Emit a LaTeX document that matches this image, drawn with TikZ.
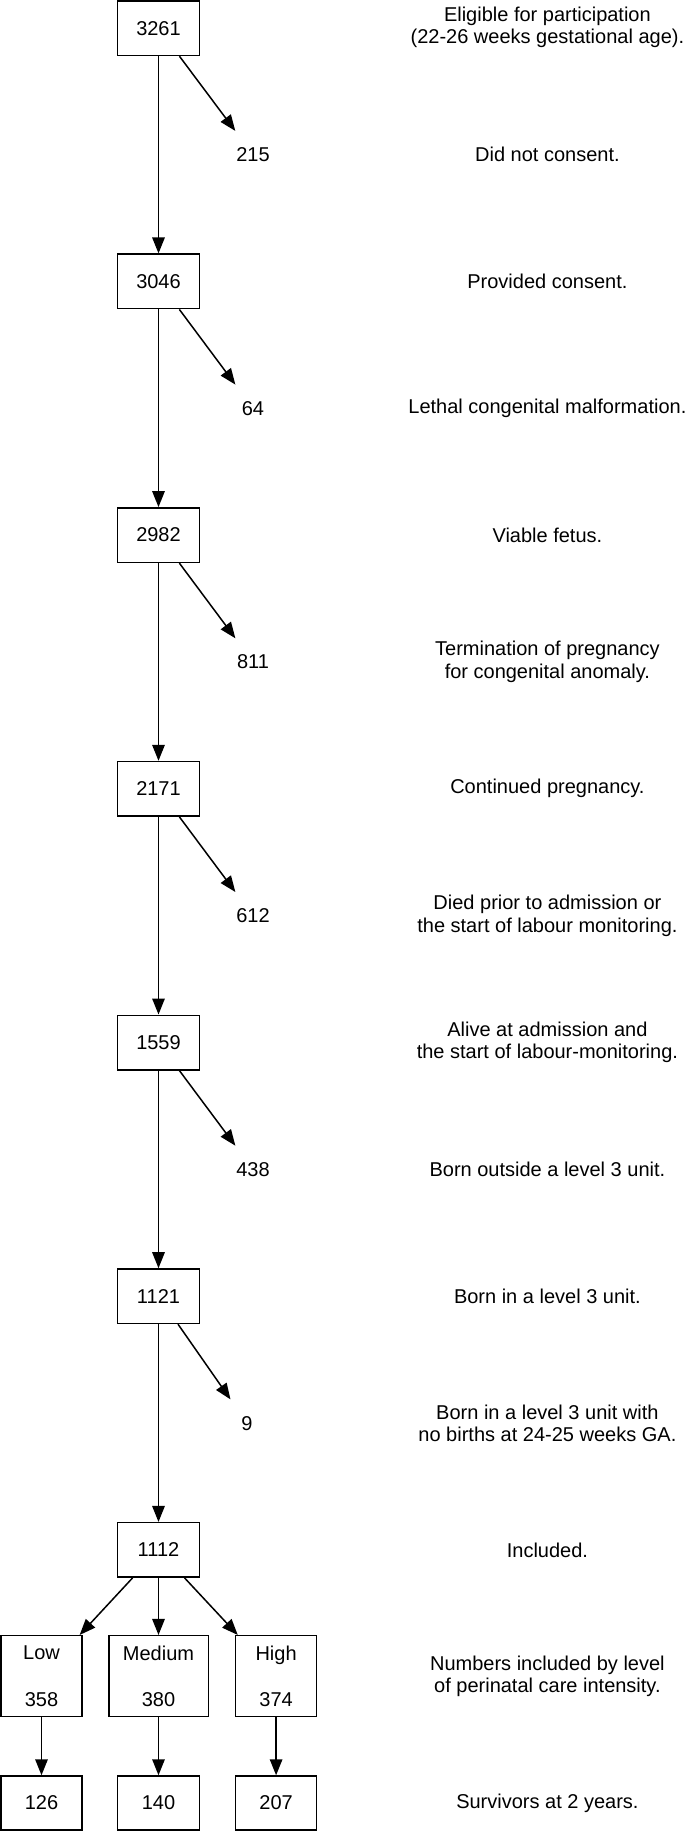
\documentclass[tikz,border=0pt]{standalone}
\usepackage{fontspec}
\setmainfont{Liberation Sans}
\usetikzlibrary{arrows.meta}
\begin{document}
\begin{tikzpicture}[x=1pt,y=-1pt,
  every node/.style={font=\fontsize{20}{22.4}\selectfont, inner sep=0pt},
  cbox/.style={draw, line width=1.5pt, minimum width=82pt, minimum height=54.5pt},
  lbox/.style={draw, line width=1.5pt, minimum height=81pt, align=center},
  side/.style={minimum width=60pt, minimum height=47pt},
  desc/.style={align=center},
  arr/.style={line width=1.5pt, -{Triangle[length=16pt,width=12.5pt]}}]
\useasboundingbox (0,0) rectangle (685,1831);
% main column
\node[cbox] (n0) at (158.5,28.2) {3261};
\node[cbox] (n1) at (158.5,281.4) {3046};
\node[cbox] (n2) at (158.5,535.1) {2982};
\node[cbox] (n3) at (158.5,788.8) {2171};
\node[cbox] (n4) at (158.5,1042.5) {1559};
\node[cbox] (n5) at (158.5,1296.2) {1121};
\node[cbox] (n6) at (158.5,1549.9) {1112};
% side numbers
\node[side] (s0) at (253,154.6) {215};
\node[side] (s1) at (253,408.3) {64};
\node[side] (s2) at (253,662.0) {811};
\node[side] (s3) at (253,915.7) {612};
\node[side] (s4) at (253,1169.4) {438};
\node[side] (s5) at (247,1423.1) {9};
% levels
\node[lbox, minimum width=81pt] (low) at (41.5,1676.2) {Low\\[24pt]358};
\node[lbox, minimum width=99.5pt] (med) at (158.5,1676.2) {Medium\\[24pt]380};
\node[lbox, minimum width=81pt] (high) at (276.1,1676.2) {High\\[24pt]374};
% survivors
\node[cbox, minimum width=81pt, minimum height=54pt] (lowS) at (41.5,1803) {126};
\node[cbox, minimum height=54pt] (medS) at (158.5,1803) {140};
\node[cbox, minimum width=81pt, minimum height=54pt] (highS) at (276.1,1803) {207};
% descriptions
\node[desc] (d0) at (547.4,27.2) {Eligible for participation\\(22-26 weeks gestational age).};
\node[desc] (d0m) at (547.4,154.6) {Did not consent.};
\node[desc] (d1) at (547.4,281.4) {Provided consent.};
\node[desc] (d1m) at (547.4,408.3) {Lethal congenital malformation.};
\node[desc] (d2) at (547.4,535.1) {Viable fetus.};
\node[desc] (d2m) at (547.4,662.0) {Termination of pregnancy\\for congenital anomaly.};
\node[desc] (d3) at (547.4,788.8) {Continued pregnancy.};
\node[desc] (d3m) at (547.4,915.7) {Died prior to admission or\\the start of labour monitoring.};
\node[desc] (d4) at (547.4,1042.5) {Alive at admission and\\the start of labour-monitoring.};
\node[desc] (d4m) at (547.4,1169.4) {Born outside a level 3 unit.};
\node[desc] (d5) at (547.4,1296.2) {Born in a level 3 unit.};
\node[desc] (d5m) at (547.4,1423.1) {Born in a level 3 unit with\\no births at 24-25 weeks GA.};
\node[desc] (d6) at (547.4,1549.9) {Included.};
\node[desc] (d7) at (547.4,1676.2) {Numbers included by level\\of perinatal care intensity.};
\node[desc] (d8) at (547.4,1803) {Survivors at 2 years.};
% connectors
\foreach \a/\b in {n0/n1,n1/n2,n2/n3,n3/n4,n4/n5,n5/n6,
                   n0/s0,n1/s1,n2/s2,n3/s3,n4/s4,n5/s5,
                   n6/low,n6/med,n6/high,low/lowS,med/medS,high/highS}
  \draw[arr] (\a) -- (\b);
\end{tikzpicture}
\end{document}
